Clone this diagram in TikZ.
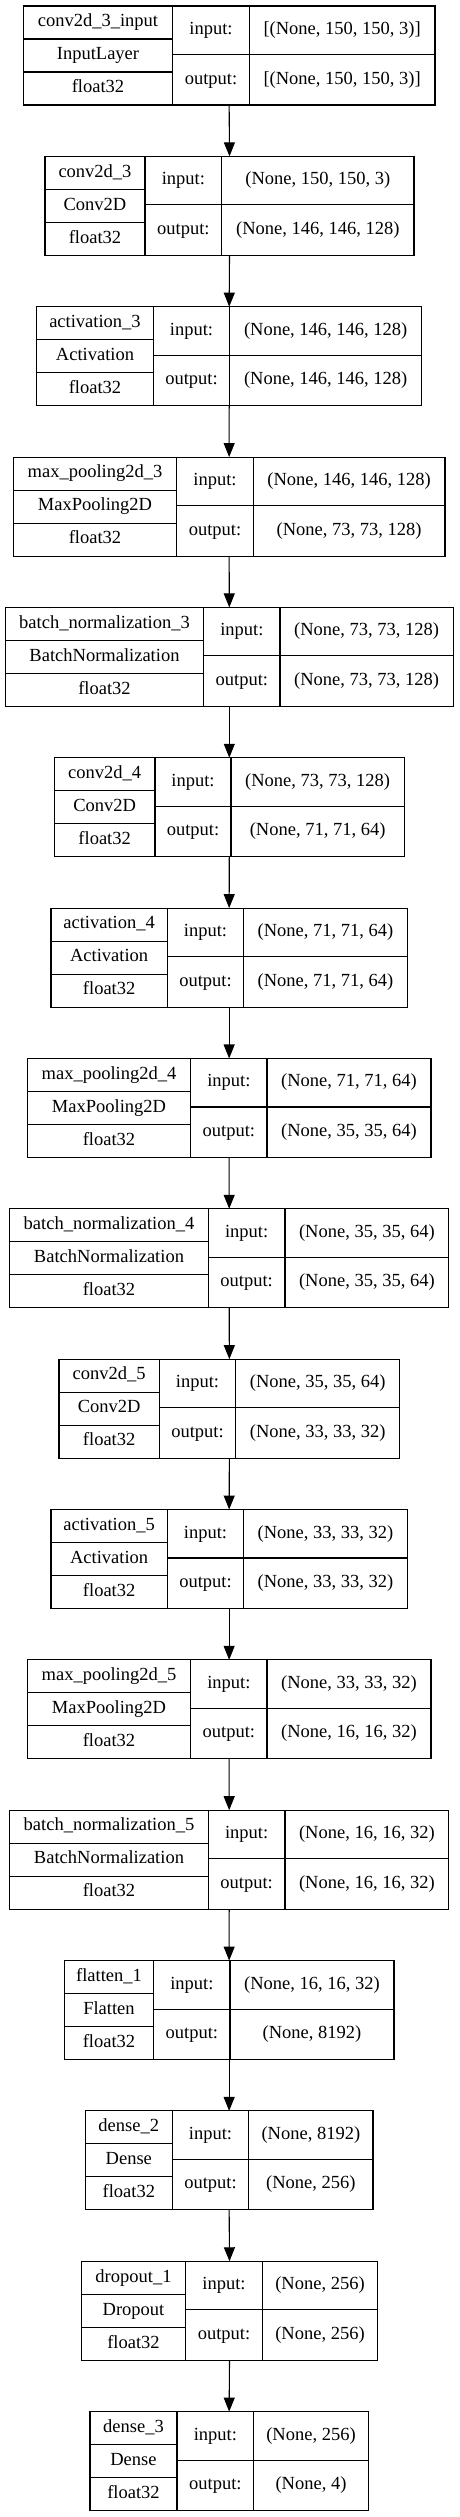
\documentclass[tikz,border=0pt]{standalone}
\usepackage{fontspec}
\setmainfont{Liberation Serif}
\usetikzlibrary{arrows.meta}
\tikzset{
  x=1pt, y=-1pt,
  lay/.style={draw=black, line width=1.1pt, inner sep=0pt, outer sep=0pt, rectangle, minimum height=99pt},
  cell/.style={inner sep=0pt, font=\fontsize{18.5}{21}\selectfont, text height=12.5pt, text depth=4pt, anchor=center},
  sep/.style={draw=black, line width=1.1pt},
  flow/.style={draw=black, line width=1.1pt, -{Triangle[length=14pt,width=11pt]}},
}
% #1 index, #2 left, #3 divider 1, #4 divider 2, #5 right, #6 name, #7 class, #8 input, #9 output
\newcommand{\layer}[9]{%
  \pgfmathsetmacro{\yt}{6+150.35*(#1-1)}%
  \pgfmathsetmacro{\yc}{\yt+49.5}%
  \pgfmathsetmacro{\yb}{\yt+99}%
  \node[lay, minimum width={(#5-#2)*1pt}] (L#1) at ({(#2+#5)/2},\yc) {};
  \draw[sep] (#3,\yt) -- (#3,\yb);
  \draw[sep] (#4,\yt) -- (#4,\yb);
  \draw[sep] (#2,\yt+33) -- (#3,\yt+33);
  \draw[sep] (#2,\yt+66) -- (#3,\yt+66);
  \draw[sep] (#3,\yt+48.5) -- (#5,\yt+48.5);
  \node[cell] (L#1n) at ({(#2+#3)/2},\yt+16.5) {#6};
  \node[cell] (L#1c) at ({(#2+#3)/2},\yt+49.5) {#7};
  \node[cell] (L#1d) at ({(#2+#3)/2},\yt+82.5) {float32};
  \node[cell] (L#1i) at ({(#3+#4)/2},\yt+24.25) {input:};
  \node[cell] (L#1o) at ({(#3+#4)/2},\yt+73.75) {output:};
  \node[cell] (L#1a) at ({(#4+#5)/2},\yt+24.25) {#8};
  \node[cell] (L#1b) at ({(#4+#5)/2},\yt+73.75) {#9};
}
\begin{document}
\begin{tikzpicture}
\useasboundingbox (0,0) rectangle (459,2517);
\fill[white] (0,0) rectangle (459,2517);
\layer{1}{23.3}{172.7}{249.3}{435}{conv2d\_3\_input}{InputLayer}{[(None, 150, 150, 3)]}{[(None, 150, 150, 3)]}
\layer{2}{45}{145}{221.7}{414}{conv2d\_3}{Conv2D}{(None, 150, 150, 3)}{(None, 146, 146, 128)}
\layer{3}{36.7}{153.3}{229.7}{421.7}{activation\_3}{Activation}{(None, 146, 146, 128)}{(None, 146, 146, 128)}
\layer{4}{13.3}{176.7}{253.3}{445}{max\_pooling2d\_3}{MaxPooling2D}{(None, 146, 146, 128)}{(None, 73, 73, 128)}
\layer{5}{5.3}{203.7}{280}{453.3}{batch\_normalization\_3}{BatchNormalization}{(None, 73, 73, 128)}{(None, 73, 73, 128)}
\layer{6}{54.3}{155}{231}{404.3}{conv2d\_4}{Conv2D}{(None, 73, 73, 128)}{(None, 71, 71, 64)}
\layer{7}{51}{167.3}{243.7}{407.3}{activation\_4}{Activation}{(None, 71, 71, 64)}{(None, 71, 71, 64)}
\layer{8}{27.3}{190.7}{267}{431}{max\_pooling2d\_4}{MaxPooling2D}{(None, 71, 71, 64)}{(None, 35, 35, 64)}
\layer{9}{9.7}{208.3}{285}{448.7}{batch\_normalization\_4}{BatchNormalization}{(None, 35, 35, 64)}{(None, 35, 35, 64)}
\layer{10}{59}{159.3}{235.7}{399.7}{conv2d\_5}{Conv2D}{(None, 35, 35, 64)}{(None, 33, 33, 32)}
\layer{11}{51}{167.3}{243.7}{407.3}{activation\_5}{Activation}{(None, 33, 33, 32)}{(None, 33, 33, 32)}
\layer{12}{27.3}{190.7}{267}{431}{max\_pooling2d\_5}{MaxPooling2D}{(None, 33, 33, 32)}{(None, 16, 16, 32)}
\layer{13}{9.7}{208.3}{285}{448.7}{batch\_normalization\_5}{BatchNormalization}{(None, 16, 16, 32)}{(None, 16, 16, 32)}
\layer{14}{64.3}{153.7}{230}{394}{flatten\_1}{Flatten}{(None, 16, 16, 32)}{(None, 8192)}
\layer{15}{85.3}{172.3}{248.7}{373}{dense\_2}{Dense}{(None, 8192)}{(None, 256)}
\layer{16}{81.3}{185.7}{262.3}{377.7}{dropout\_1}{Dropout}{(None, 256)}{(None, 256)}
\layer{17}{90}{177}{253.7}{368.3}{dense\_3}{Dense}{(None, 256)}{(None, 4)}
\foreach \i [evaluate=\i as \j using int(\i+1)] in {1,...,16} {
  \draw[flow] (L\i.south) -- (L\j.north);
}
\end{tikzpicture}
\end{document}
